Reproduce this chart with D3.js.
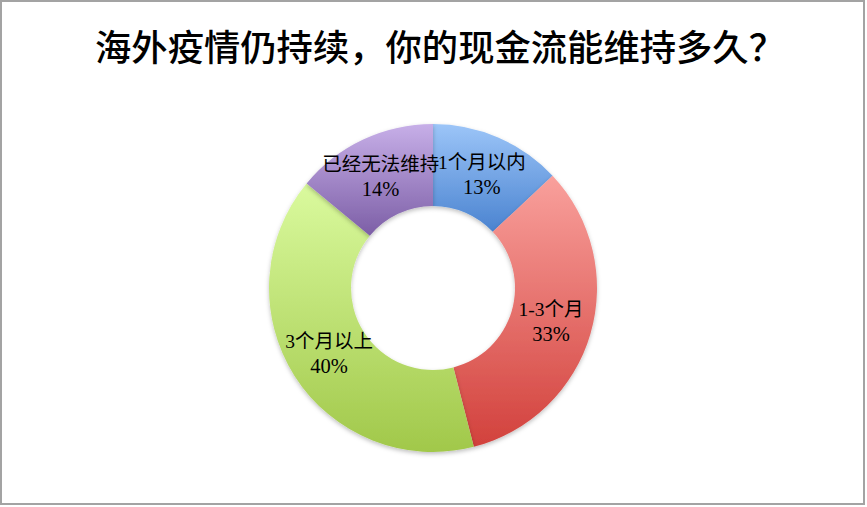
<!DOCTYPE html>
<html>
<head>
<meta charset="utf-8">
<script src="https://cdn.jsdelivr.net/npm/d3@7"></script>
<style>
  body { margin: 0; background: #fff; }
  .label { font-family: "Liberation Serif", "Noto Sans CJK SC", serif; font-size: 19.5px; fill: #000; }
  .pct { font-size: 20.5px; }
  .title { font-family: "Noto Sans CJK SC", sans-serif; font-size: 36px; font-weight: 500; fill: #000; }
</style>
</head>
<body>
<div id="chart"></div>
<script>
var categories = ["1个月以内", "1-3个月", "3个月以上", "已经无法维持"];
var values = [13, 33, 40, 14];
var percentLabels = ["13%", "33%", "40%", "14%"];
var gradientTops = ["#9cc5f8", "#f9a09c", "#dafa9e", "#c7afe8"];
var gradientBottoms = ["#4a83d0", "#d2413c", "#a1c84a", "#7c5ea6"];

var svgWidth = 867;
var svgHeight = 507;
var cx = 433, cy = 288;
var outerR = 164, innerR = 82;

var svg = d3.select("#chart")
  .append("svg")
  .attr("width", svgWidth)
  .attr("height", svgHeight);

// border
svg.append("rect")
  .attr("x", 1)
  .attr("y", 1)
  .attr("width", 863)
  .attr("height", 503)
  .attr("fill", "#fff")
  .attr("stroke", "#a3a3a3")
  .attr("stroke-width", 2);

var defs = svg.append("defs");
categories.forEach(function(c, i) {
  var g = defs.append("linearGradient")
    .attr("id", "grad" + i)
    .attr("x1", 0).attr("y1", 0)
    .attr("x2", 0).attr("y2", 1);
  g.append("stop").attr("offset", "0%").attr("stop-color", gradientTops[i]);
  g.append("stop").attr("offset", "100%").attr("stop-color", gradientBottoms[i]);
});

var shadow = defs.append("filter").attr("id", "shadow")
  .attr("x", "-10%").attr("y", "-10%").attr("width", "120%").attr("height", "120%");
shadow.append("feDropShadow")
  .attr("dx", 0).attr("dy", 2)
  .attr("stdDeviation", 2)
  .attr("flood-color", "#000")
  .attr("flood-opacity", 0.25);

// title
svg.append("text")
  .attr("class", "title")
  .attr("x", 440)
  .attr("y", 61)
  .attr("text-anchor", "middle")
  .attr("textLength", 690)
  .attr("lengthAdjust", "spacingAndGlyphs")
  .text("海外疫情仍持续，你的现金流能维持多久？");

var data = categories.map(function(c, i) {
  return { name: c, value: values[i], pct: percentLabels[i], idx: i };
});

var pie = d3.pie()
  .value(d => d.value)
  .sort(null);

var arc = d3.arc()
  .innerRadius(innerR)
  .outerRadius(outerR);

var labelArc = d3.arc()
  .innerRadius(123)
  .outerRadius(123);

var chartGroup = svg.append("g")
  .attr("transform", `translate(${cx}, ${cy})`);

var arcs = pie(data);

chartGroup.selectAll("path")
  .data(arcs)
  .enter()
  .append("path")
  .attr("d", arc)
  .attr("fill", d => `url(#grad${d.data.idx})`)
  .attr("filter", "url(#shadow)");

var labels = chartGroup.selectAll("text.label")
  .data(arcs)
  .enter()
  .append("text")
  .attr("class", "label")
  .attr("text-anchor", "middle")
  .attr("transform", d => `translate(${labelArc.centroid(d)})`);

labels.append("tspan")
  .attr("x", 0)
  .attr("y", -6)
  .text(d => d.data.name);

labels.append("tspan")
  .attr("class", "pct")
  .attr("x", 0)
  .attr("y", 19)
  .text(d => d.data.pct);
</script>
</body>
</html>
